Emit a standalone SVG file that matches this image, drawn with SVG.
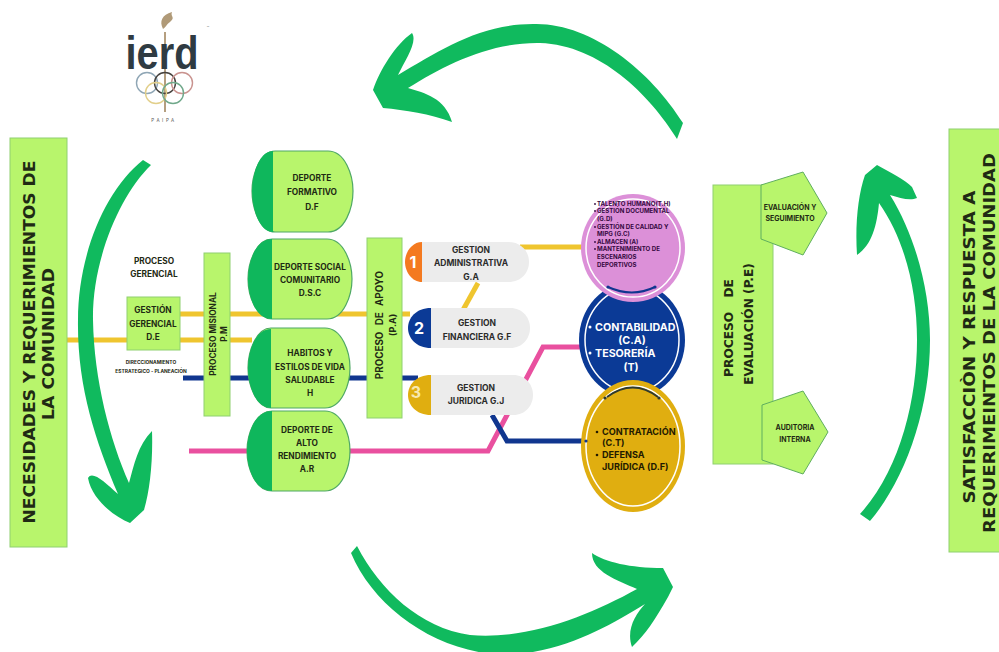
<svg xmlns="http://www.w3.org/2000/svg" width="999" height="652" viewBox="0 0 999 652">
<style>
text{font-family:"Inter","Liberation Sans",sans-serif;font-weight:700;fill:#1f2a14;text-anchor:middle}
.box{fill:#b8f56c;stroke:#8fd070;stroke-width:1}
.cap{fill:#b8f56c;stroke:#4fa865;stroke-width:1.2}
.dark{fill:#0fb75c}
.pent{fill:#b8f56c;stroke:#5fae5f;stroke-width:1}
.pill{fill:#ececec}
.arrow{fill:#10ba5e}
.ln{fill:none;stroke-width:5}
.y{stroke:#efc52f}.n{stroke:#10368f}.p{stroke:#e9509f}
.s9{font-size:8.3px}
.big{font-size:15px;font-family:"DejaVu Sans","Liberation Sans",sans-serif}
.ev{font-size:12.2px;font-family:"DejaVu Sans","Liberation Sans",sans-serif}
.pk{font-size:6.1px;fill:#35083f;text-anchor:start}
.g{font-size:8.5px;fill:#2b2b2b}
.w{fill:#fff;font-size:10.7px;text-anchor:start}
.wc{fill:#fff;font-size:10.7px}
.au{font-size:9.1px;fill:#231a00;text-anchor:start}
.num{fill:#fff;font-size:16px}
.pt{font-size:7px}
.dr{font-size:4.9px}
</style>
<rect width="999" height="652" fill="#fff"/>

<g id="logo">
<path d="M163,29C159,21 162,15 172,12C170,17 176,17 170,22C166,25 166,27 163,29Z" fill="#b09a78"/>
<path d="M165,32V112" stroke="#b59f80" stroke-width="2" fill="none"/>
<text x="162" y="69" textLength="73" lengthAdjust="spacingAndGlyphs" style="font-family:'Liberation Sans',sans-serif;font-size:47px;font-weight:700;fill:#2f3b42">ierd</text>
<g fill="none" stroke-width="1.4">
<circle cx="147" cy="83" r="10.5" stroke="#8fa6b5"/>
<circle cx="165" cy="83" r="10.5" stroke="#46423e"/>
<circle cx="182" cy="83" r="10.5" stroke="#c9938f"/>
<circle cx="156" cy="93" r="10.5" stroke="#e2cf8a"/>
<circle cx="173" cy="93" r="10.5" stroke="#6fa88a"/>
</g>
<text x="164" y="122" style="font-size:4.5px;letter-spacing:2.6px;font-weight:400;fill:#555">PAIPA</text>
<text x="208" y="29" style="font-size:4px;font-weight:400;fill:#777">™</text>
</g>

<g id="connectors">
<path class="ln y" d="M67,340H252"/>
<path class="ln y" d="M180,314H410"/>
<path class="ln n" d="M183,378H418"/>
<path class="ln p" d="M189,451H488L543,347H585"/>
<path class="ln n" d="M492,415L507,441H587"/>
<path class="ln y" d="M520,247H585"/>
<path class="ln y" d="M478,283L463,310"/>
<path class="arrow" d="M143,160L151,165C120,195 92,260 93,320C94,380 110,440 129,483C134,465 138,445 152,431C153,460 150,490 144,510L130,523C115,517 92,500 88,478C92,470 105,482 118,494C95,440 77,385 78,320C78,255 105,190 143,160Z"/>
<path class="arrow" d="M677,139C650,95 600,45 540,43C490,42 445,65 408,88C425,93 445,98 452,122C430,114 405,110 383,108L373,90C380,70 395,45 412,33C418,42 405,60 398,75C440,50 480,24 533,24C590,22 650,70 683,123Z"/>
<path class="arrow" d="M357,546C380,590 420,628 470,635C530,640 590,615 637,589C617,580 592,572 592,553C605,562 630,568 663,568L673,587L668,597C655,620 645,635 632,647C626,630 635,615 645,604C610,625 570,650 510,655C440,655 375,610 351,553Z"/>
<path class="arrow" d="M860,514C900,470 917,400 917,340C917,290 905,240 879,203C877,225 872,245 857,255C855,225 858,195 865,175L877,165C890,172 905,180 912,187L917,198C910,201 900,198 890,195C915,235 930,290 930,340C930,410 905,480 870,521Z"/>
</g>

<g id="necesidades">
<rect class="box" x="10" y="138" width="57" height="409"/>
<text class="big" textLength="363" lengthAdjust="spacingAndGlyphs" transform="translate(35,342) rotate(-90)">NECESIDADES Y REQUERIMIENTOS DE</text>
<text class="big" textLength="152" lengthAdjust="spacingAndGlyphs" transform="translate(54,344) rotate(-90)">LA COMUNIDAD</text>
</g>

<g id="satisfaccion">
<rect class="box" x="949" y="129" width="51" height="423"/>
<text class="big" textLength="313" lengthAdjust="spacingAndGlyphs" transform="translate(975,347) rotate(-90)">SATISFACCIÒN Y RESPUESTA A</text>
<text class="big" textLength="380" lengthAdjust="spacingAndGlyphs" transform="translate(995,343) rotate(-90)">REQUERIMEINTOS  DE LA COMUNIDAD</text>
</g>

<g id="proceso-gerencial">
<text class="s9" x="154" y="264">PROCESO</text>
<text class="s9" x="154" y="277">GERENCIAL</text>
</g>

<g id="gestion-gerencial">
<rect class="box" x="127" y="297" width="53" height="53"/>
<text class="s9" x="153" y="313">GESTIÓN</text>
<text class="s9" x="153" y="327">GERENCIAL</text>
<text class="s9" x="153" y="340">D.E</text>
</g>

<g id="direccionamiento">
<text class="dr" x="151" y="364">DIRECCIONAMIENTO</text>
<text class="dr" x="151" y="373">ESTRATEGICO - PLANEACIÓN</text>
</g>

<g id="proceso-misional">
<rect class="box" x="204" y="253" width="26" height="163"/>
<text class="s9" transform="translate(216,334) rotate(-90)">PROCESO MISIONAL</text>
<text class="s9" transform="translate(227,334) rotate(-90)">P.M</text>
</g>

<g id="deporte-formativo">
<path class="cap" d="M275,151H328C345,151 353,175 353,191C353,208 345,232 328,232H275C260,232 252,208 252,191C252,175 260,151 275,151Z"/>
<path class="dark" d="M273,151V232C259,232 252,208 252,191C252,175 259,151 273,151Z"/>
<text class="s9" x="312" y="181">DEPORTE</text>
<text class="s9" x="312" y="195">FORMATIVO</text>
<text class="s9" x="312" y="210">D.F</text>
</g>

<g id="deporte-social">
<path class="cap" d="M272,239H327C344,239 352,263 352,279C352,295 344,319 327,319H272C256,319 248,295 248,279C248,263 256,239 272,239Z"/>
<path class="dark" d="M272,239V319C255,319 248,295 248,279C248,263 255,239 272,239Z"/>
<text class="s9" x="310" y="270">DEPORTE SOCIAL</text>
<text class="s9" x="310" y="283">COMUNITARIO</text>
<text class="s9" x="310" y="296">D.S.C</text>
</g>

<g id="habitos">
<path class="cap" d="M271,328H325C342,328 350,352 350,368C350,384 342,408 325,408H271C256,408 248,384 248,368C248,352 256,328 271,328Z"/>
<path class="dark" d="M271,329V408C255,408 248,384 248,368C248,352 255,329 271,329Z"/>
<text class="s9" x="310" y="356">HABITOS Y</text>
<text class="s9" x="310" y="370">ESTILOS DE VIDA</text>
<text class="s9" x="310" y="383">SALUDABLE</text>
<text class="s9" x="310" y="396">H</text>
</g>

<g id="alto-rendimiento">
<path class="cap" d="M272,411H325C342,411 350,435 350,451C350,467 342,491 325,491H272C255,491 247,467 247,451C247,435 255,411 272,411Z"/>
<path class="dark" d="M272,411V491C254,491 247,467 247,451C247,435 254,411 272,411Z"/>
<text class="s9" x="307" y="433">DEPORTE DE</text>
<text class="s9" x="307" y="446">ALTO</text>
<text class="s9" x="307" y="459">RENDIMIENTO</text>
<text class="s9" x="307" y="472">A.R</text>
</g>

<g id="proceso-apoyo">
<rect class="box" x="367" y="238" width="35" height="180"/>
<text class="s9" style="font-size:9.8px;word-spacing:4px" transform="translate(383,325) rotate(-90)">PROCESO DE APOYO</text>
<text class="s9" style="font-size:9px" transform="translate(396,325) rotate(-90)">(P.A)</text>
</g>

<g id="gestion-administrativa">
<path class="pill" d="M422,242H508C522,242 529,252 529,262C529,272 522,282 508,282H422Z"/>
<path d="M422,242V282C412,282 405,272 405,262C405,252 412,242 422,242Z" fill="#f47a20"/>
<text class="num" x="413" y="268">1</text>
<text class="g" x="471" y="253">GESTION</text>
<text class="g" x="471" y="266">ADMINISTRATIVA</text>
<text class="g" x="471" y="280">G.A</text>
</g>

<g id="gestion-financiera">
<path class="pill" d="M431,308H510C523,308 530,318 530,328C530,338 523,348 510,348H431Z"/>
<path d="M431,308V348C416,348 408,338 408,328C408,318 416,308 431,308Z" fill="#0b3a96"/>
<text class="num" x="419" y="334">2</text>
<text class="g" x="477" y="326">GESTION</text>
<text class="g" x="477" y="340">FINANCIERA G.F</text>
</g>

<g id="gestion-juridica">
<path class="pill" d="M431,375H513C526,375 533,385 533,395C533,405 526,415 513,415H431Z"/>
<path d="M431,375V415C416,415 408,405 408,395C408,385 416,375 431,375Z" fill="#e0ae10"/>
<text class="num" x="416" y="398" style="fill:#f7e9b0">3</text>
<text class="g" x="476" y="391">GESTION</text>
<text class="g" x="476" y="404">JURIDICA  G.J</text>
</g>

<g id="contabilidad">
<ellipse cx="632" cy="340" rx="53" ry="58" fill="#0b3a96"/>
<ellipse cx="632" cy="340" rx="47" ry="52" fill="none" stroke="#fff" stroke-width="1.5"/>
<text class="w" x="595" y="331">CONTABILIDAD</text>
<text class="wc" x="632" y="344">(C.A)</text>
<text class="w" x="595" y="357">TESORERÍA</text>
<text class="wc" x="631" y="371">(T)</text>
<circle cx="590" cy="327" r="1.5" fill="#fff"/>
<circle cx="590" cy="353" r="1.5" fill="#fff"/>
</g>

<g id="recursos">
<ellipse cx="633" cy="248" rx="52" ry="54" fill="#dc90d8"/>
<ellipse cx="633" cy="248" rx="47" ry="49" fill="none" stroke="#fff" stroke-width="1.5"/>
<path d="M608,287Q632,298 655,287" fill="none" stroke="#10368f" stroke-width="2"/>
<circle cx="608" cy="287" r="1.6" fill="#10368f"/>
<circle cx="655" cy="287" r="1.6" fill="#10368f"/>
<g>
<text class="pk" x="597" y="206">TALENTO HUMANO(T.H)</text>
<text class="pk" x="597" y="213">GESTIÓN DOCUMENTAL</text>
<text class="pk" x="597" y="221">(G.D)</text>
<text class="pk" x="597" y="229">GESTIÓN DE CALIDAD Y</text>
<text class="pk" x="597" y="236">MIPG (G.C)</text>
<text class="pk" x="597" y="244">ALMACEN (A)</text>
<text class="pk" x="597" y="251">MANTENIMIENTO DE</text>
<text class="pk" x="597" y="259">ESCENARIOS</text>
<text class="pk" x="597" y="267">DEPORTIVOS</text>
</g>
<g fill="#35083f">
<circle cx="595" cy="204" r=".9"/><circle cx="595" cy="211" r=".9"/><circle cx="595" cy="227" r=".9"/><circle cx="595" cy="242" r=".9"/><circle cx="595" cy="249" r=".9"/>
</g>
</g>

<g id="contratacion">
<ellipse cx="633" cy="446" rx="52" ry="66" fill="#e0ae10"/>
<ellipse cx="633" cy="446" rx="47" ry="60" fill="none" stroke="#fff" stroke-width="1.5"/>
<path d="M607,397Q633,378 658,397" fill="none" stroke="#2f3a2f" stroke-width="2"/>
<circle cx="605" cy="398" r="1.6" fill="#2f3a2f"/>
<circle cx="659" cy="398" r="1.6" fill="#2f3a2f"/>
<circle cx="586" cy="441" r="1.6" fill="#10368f"/>
<text class="au" x="602" y="435">CONTRATACIÓN</text>
<text class="au" x="602" y="446">(C.T)</text>
<text class="au" x="602" y="458">DEFENSA</text>
<text class="au" x="602" y="470">JURÍDICA (D.F)</text>
<circle cx="597" cy="432" r="1.3" fill="#231a00"/>
<circle cx="597" cy="455" r="1.3" fill="#231a00"/>
</g>

<g id="proceso-evaluacion">
<rect class="box" x="713" y="185" width="60" height="279"/>
<text class="ev" style="word-spacing:10px" transform="translate(733,328) rotate(-90)">PROCESO DE</text>
<text class="ev" transform="translate(753,324) rotate(-90)">EVALUACIÓN (P.E)</text>
</g>

<g id="evaluacion-seguimiento">
<polygon class="pent" points="761,185 803,172 827,213 803,255 761,239"/>
<text class="pt" x="790" y="210">EVALUACIÓN Y</text>
<text class="pt" x="790" y="221">SEGUIMIENTO</text>
</g>

<g id="auditoria-interna">
<polygon class="pent" points="762,405 803,391 828,432 803,474 762,460"/>
<text class="pt" x="795" y="430">AUDITORIA</text>
<text class="pt" x="795" y="442">INTERNA</text>
</g>
</svg>
